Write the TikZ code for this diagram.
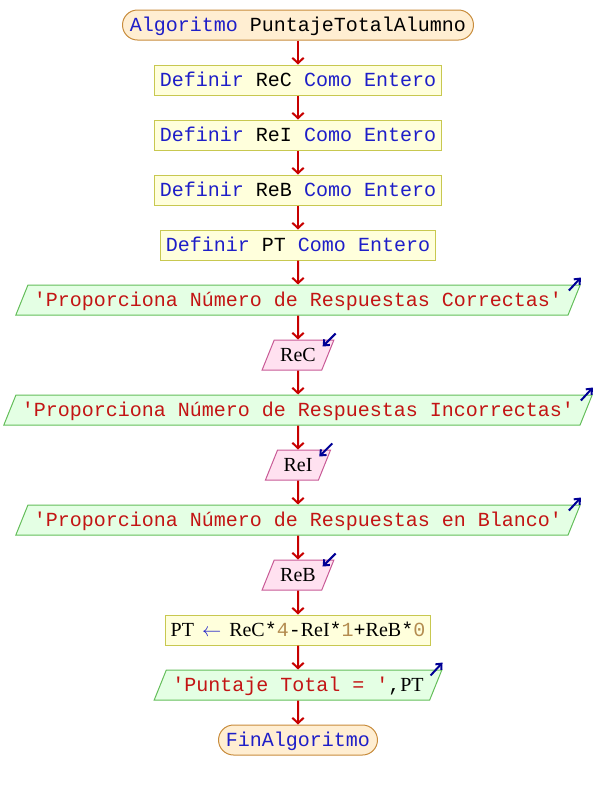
\documentclass[tikz,border=0pt]{standalone}
\usepackage{fontspec}
\newfontfamily\monofont{Liberation Mono}[Ligatures=TeXOff]
\newfontfamily\seriffont{Liberation Serif}
\usetikzlibrary{shapes.geometric,arrows.meta}

% --- Colours ---
\definecolor{kwblue}{RGB}{30,30,200}
\definecolor{strred}{RGB}{195,20,20}
\definecolor{numtan}{RGB}{180,140,80}
\definecolor{flowred}{RGB}{200,0,0}
\definecolor{markblue}{RGB}{0,0,150}
\definecolor{termfill}{RGB}{255,238,210}
\definecolor{termline}{RGB}{200,140,60}
\definecolor{procfill}{RGB}{255,255,220}
\definecolor{procline}{RGB}{200,200,80}
\definecolor{outfill}{RGB}{228,255,228}
\definecolor{outline}{RGB}{100,190,90}
\definecolor{infill}{RGB}{255,225,240}
\definecolor{inline}{RGB}{200,90,150}

% --- Text helpers ---
\newcommand{\kw}[1]{\textcolor{kwblue}{#1}}
\newcommand{\pstr}[1]{\textcolor{strred}{#1}}
\newcommand{\pnum}[1]{\textcolor{numtan}{#1}}
\newcommand{\pvar}[1]{{\seriffont #1}}

\tikzset{
  chart/.style={font=\monofont\fontsize{15}{18}\selectfont, text height=12pt,
    text depth=2pt, inner ysep=4.25pt, line width=0.75pt},
  terminal/.style={chart, draw=termline, fill=termfill, rounded corners=11.25pt,
    inner xsep=5.6pt},
  process/.style={chart, draw=procline, fill=procfill, inner xsep=3.9pt},
  iobox/.style={chart, trapezium, trapezium left angle=68, trapezium right angle=112,
    inner xsep=4.5pt},
  output/.style={iobox, draw=outline, fill=outfill},
  input/.style={iobox, draw=inline, fill=infill},
  flow/.style={draw=flowred, line width=1.5pt, -{Straight Barb[length=4pt,width=8.5pt]}},
  iomark/.style={draw=markblue, line width=1.5pt, -{Straight Barb[length=3.5pt,width=6pt]}}
}

\begin{document}
\begin{tikzpicture}[x=0.75pt,y=-0.75pt]

    % --- Page frame ---
    \useasboundingbox (0,0) rectangle (596,790);

    % --- Nodes ---
    \node[terminal] (start) at (298,25) {\kw{Algoritmo} PuntajeTotalAlumno};
    \node[process] (defc) at (298,80) {\kw{Definir} ReC \kw{Como} \kw{Entero}};
    \node[process] (defi) at (298,135) {\kw{Definir} ReI \kw{Como} \kw{Entero}};
    \node[process] (defb) at (298,190) {\kw{Definir} ReB \kw{Como} \kw{Entero}};
    \node[process] (defpt) at (298,245) {\kw{Definir} PT \kw{Como} \kw{Entero}};
    \node[output] (askc) at (298,300) {\pstr{'Proporciona Número de Respuestas Correctas'}};
    \node[input] (readc) at (298,355) {\pvar{ReC}};
    \node[output] (aski) at (298,410) {\pstr{'Proporciona Número de Respuestas Incorrectas'}};
    \node[input] (readi) at (298,465) {\pvar{ReI}};
    \node[output] (askb) at (298,520) {\pstr{'Proporciona Número de Respuestas en Blanco'}};
    \node[input] (readb) at (298,575) {\pvar{ReB}};
    \node[process] (calc) at (298,630)
      {\pvar{PT}\hspace{0.4em}\kw{$\leftarrow$}\hspace{0.4em}\pvar{ReC}*\pnum{4}-\pvar{ReI}*\pnum{1}+\pvar{ReB}*\pnum{0}};
    \node[output] (show) at (298,685) {\pstr{'Puntaje Total = '},\pvar{PT}};
    \node[terminal] (stop) at (298,740) {\kw{FinAlgoritmo}};

    % --- Connectors ---
    \draw[flow] (start) -- (defc);
    \draw[flow] (defc) -- (defi);
    \draw[flow] (defi) -- (defb);
    \draw[flow] (defb) -- (defpt);
    \draw[flow] (defpt) -- (askc);
    \draw[flow] (askc) -- (readc);
    \draw[flow] (readc) -- (aski);
    \draw[flow] (aski) -- (readi);
    \draw[flow] (readi) -- (askb);
    \draw[flow] (askb) -- (readb);
    \draw[flow] (readb) -- (calc);
    \draw[flow] (calc) -- (show);
    \draw[flow] (show) -- (stop);

    % --- Output marks (pointing out) ---
    \draw[iomark] ([shift={(-12,6)}]askc.top right corner) -- ([shift={(0,-7)}]askc.top right corner);
    \draw[iomark] ([shift={(-12,6)}]aski.top right corner) -- ([shift={(0,-7)}]aski.top right corner);
    \draw[iomark] ([shift={(-12,6)}]askb.top right corner) -- ([shift={(0,-7)}]askb.top right corner);
    \draw[iomark] ([shift={(-12,6)}]show.top right corner) -- ([shift={(0,-7)}]show.top right corner);

    % --- Input marks (pointing in) ---
    \draw[iomark] ([shift={(1,-6)}]readc.top right corner) -- ([shift={(-12,7)}]readc.top right corner);
    \draw[iomark] ([shift={(1,-6)}]readi.top right corner) -- ([shift={(-12,7)}]readi.top right corner);
    \draw[iomark] ([shift={(1,-6)}]readb.top right corner) -- ([shift={(-12,7)}]readb.top right corner);

\end{tikzpicture}
\end{document}
